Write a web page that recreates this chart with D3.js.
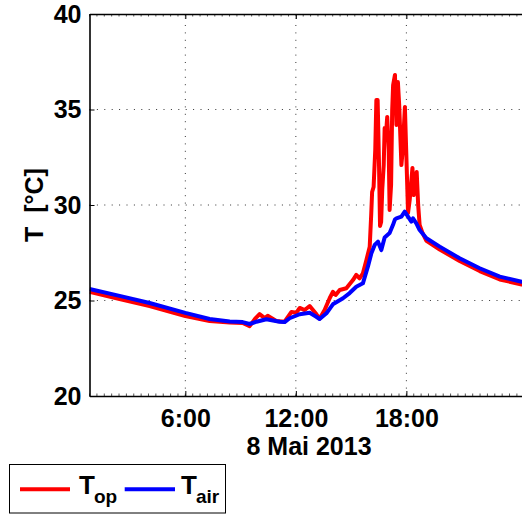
<!DOCTYPE html>
<html><head><meta charset="utf-8">
<script src="https://cdn.jsdelivr.net/npm/d3@7"></script>
<style>
html,body{margin:0;padding:0;background:#fff;}
text{font-family:"Liberation Sans",Arial,Helvetica,sans-serif;font-weight:bold;fill:#000;}
</style></head>
<body>
<svg id="chart" width="522" height="514"></svg>
<script>
// time in hours on 8 Mai 2013, temperatures in °C
const hoursAir = [0.80,2.43,4.06,6.00,7.32,8.41,9.11,9.49,9.86,10.40,11.12,11.39,11.66,12.21,12.75,13.11,13.29,13.66,14.01,14.56,14.92,15.28,15.64,15.91,16.10,16.28,16.46,16.64,16.82,17.09,17.27,17.38,17.46,17.73,17.91,18.09,18.27,18.36,18.54,18.72,19.09,19.81,20.89,21.98,23.07,24.26,24.63];
const tAir     = [25.60,25.24,24.87,24.35,24.03,23.90,23.87,23.77,23.89,24.02,23.89,23.87,24.07,24.28,24.36,24.15,24.03,24.33,24.80,25.12,25.39,25.72,25.90,26.77,27.47,27.91,28.08,27.64,28.30,28.53,28.95,29.25,29.30,29.39,29.65,29.39,29.13,29.30,29.04,28.69,28.26,27.82,27.21,26.69,26.25,25.98,25.94];
const hoursOp  = [0.80,2.43,4.06,6.00,7.32,8.41,9.11,9.49,9.82,10.03,10.31,10.47,10.94,11.39,11.76,12.03,12.21,12.48,12.75,13.11,13.29,13.56,13.84,14.01,14.16,14.38,14.74,15.10,15.28,15.46,15.64,15.83,16.01,16.09,16.14,16.22,16.31,16.37,16.44,16.51,16.57,16.63,16.69,16.77,16.82,16.89,16.96,17.04,17.09,17.17,17.23,17.28,17.38,17.46,17.54,17.61,17.73,17.80,17.92,17.99,18.09,18.18,18.33,18.40,18.48,18.56,18.64,18.72,18.88,19.09,19.81,20.89,21.98,23.07,24.26,24.63];
const tOp      = [25.46,25.08,24.71,24.19,23.93,23.85,23.82,23.66,24.08,24.29,24.08,24.20,23.93,23.89,24.40,24.36,24.61,24.50,24.71,24.29,24.05,24.50,25.13,25.45,25.29,25.55,25.64,26.07,26.34,26.16,26.42,27.12,27.82,29.48,30.68,30.94,32.88,35.50,35.50,32.36,28.90,29.11,30.79,32.09,34.03,33.66,34.61,32.88,29.74,31.05,34.97,36.28,36.81,34.19,36.44,35.24,32.09,32.88,35.13,32.88,29.58,30.26,31.94,30.52,30.89,31.73,30.00,28.95,28.53,28.12,27.67,27.07,26.54,26.10,25.84,25.80];
const xTickHours  = [6, 12, 18];
const xTickLabels = ["6:00", "12:00", "18:00"];
const yTicks = [20, 25, 30, 35, 40];
const dateLabel = "8 Mai 2013";
const yLabel = "T  [°C]";
const seriesNames = [["T","op"],["T","air"]];
const seriesColors = ["#ff0000","#0000ff"];

const svg = d3.select("#chart");
const L = 89.5, R = 528.5, T = 14, B = 396;
const x = d3.scaleLinear().domain([0.797, 24.63]).range([L, R]);
const y = d3.scaleLinear().domain([20, 40]).range([B, T]);

svg.append("defs").append("clipPath").attr("id","clip")
  .append("rect").attr("x",L).attr("y",T).attr("width",R-L).attr("height",B-T);

// grid
const grid = svg.append("g").attr("stroke","#333").attr("stroke-width",1).attr("stroke-dasharray","1,6.4");
xTickHours.forEach(h => grid.append("line").attr("x1",x(h)).attr("x2",x(h)).attr("y1",B).attr("y2",T));
yTicks.filter(v => v>20 && v<40).forEach(v => grid.append("line").attr("x1",L).attr("x2",R).attr("y1",y(v)).attr("y2",y(v)));

// minor ticks along top/bottom
const minor = svg.append("g").attr("stroke","#555").attr("stroke-width",1);
d3.range(0.8, 24.6, 0.4).forEach(h => {
  minor.append("line").attr("x1",x(h)).attr("x2",x(h)).attr("y1",T).attr("y2",T+2.5);
  minor.append("line").attr("x1",x(h)).attr("x2",x(h)).attr("y1",B).attr("y2",B-2.5);
});

// lines
const gl = svg.append("g").attr("clip-path","url(#clip)");
const line = d3.line().x(d => x(d[0])).y(d => y(d[1]));
gl.append("path").datum(d3.zip(hoursOp, tOp)).attr("d", line)
  .attr("fill","none").attr("stroke",seriesColors[0]).attr("stroke-width",4).attr("stroke-linejoin","round");
gl.append("path").datum(d3.zip(hoursAir, tAir)).attr("d", line)
  .attr("fill","none").attr("stroke",seriesColors[1]).attr("stroke-width",4).attr("stroke-linejoin","round");

// axes
const xAxis = d3.axisBottom(x).tickValues(xTickHours).tickFormat((d,i) => xTickLabels[i]).tickSizeInner(-5).tickSizeOuter(0).tickPadding(13);
const gx = svg.append("g").attr("transform",`translate(0,${B})`).call(xAxis);
gx.select(".domain").attr("stroke","#000").attr("stroke-width",1.6);
gx.selectAll(".tick line").attr("stroke","#000");
gx.selectAll("text").style("font-size","25px").attr("fill","#000");
const gxt = svg.append("g").attr("transform",`translate(0,${T})`).call(d3.axisTop(x).tickValues(xTickHours).tickFormat("").tickSizeInner(-5).tickSizeOuter(0));
gxt.select(".domain").attr("stroke","#000").attr("stroke-width",1.6);
gxt.selectAll(".tick line").attr("stroke","#000");

const yAxis = d3.axisLeft(y).tickValues(yTicks).tickFormat(d3.format("d")).tickSizeInner(-5).tickSizeOuter(0).tickPadding(8);
const gy = svg.append("g").attr("transform",`translate(${L},0)`).call(yAxis);
gy.select(".domain").attr("stroke","#000").attr("stroke-width",1.6);
gy.selectAll(".tick line").attr("stroke","#000");
gy.selectAll("text").style("font-size","25px").attr("fill","#000");

svg.append("text").attr("x",(L+R)/2).attr("y",455).attr("text-anchor","middle").style("font-size","25px").text(dateLabel);
svg.append("text").attr("transform",`translate(43,${(T+B)/2}) rotate(-90)`).attr("text-anchor","middle")
  .style("font-size","25px").style("white-space","pre").attr("xml:space","preserve").text(yLabel);

// legend
const lg = svg.append("g");
lg.append("rect").attr("x",9.5).attr("y",464.5).attr("width",216).attr("height",48.5).attr("fill","#fff").attr("stroke","#000").attr("stroke-width",1);
const lx = [[20,70,79,94],[124.7,175,181,196]];
seriesNames.forEach((n,i) => {
  lg.append("line").attr("x1",lx[i][0]).attr("x2",lx[i][1]).attr("y1",489.3).attr("y2",489.3).attr("stroke",seriesColors[i]).attr("stroke-width",4);
  lg.append("text").attr("x",lx[i][2]).attr("y",494).style("font-size","26px").text(n[0]);
  lg.append("text").attr("x",lx[i][3]).attr("y",503).style("font-size","19px").text(n[1]);
});
</script>
</body></html>
